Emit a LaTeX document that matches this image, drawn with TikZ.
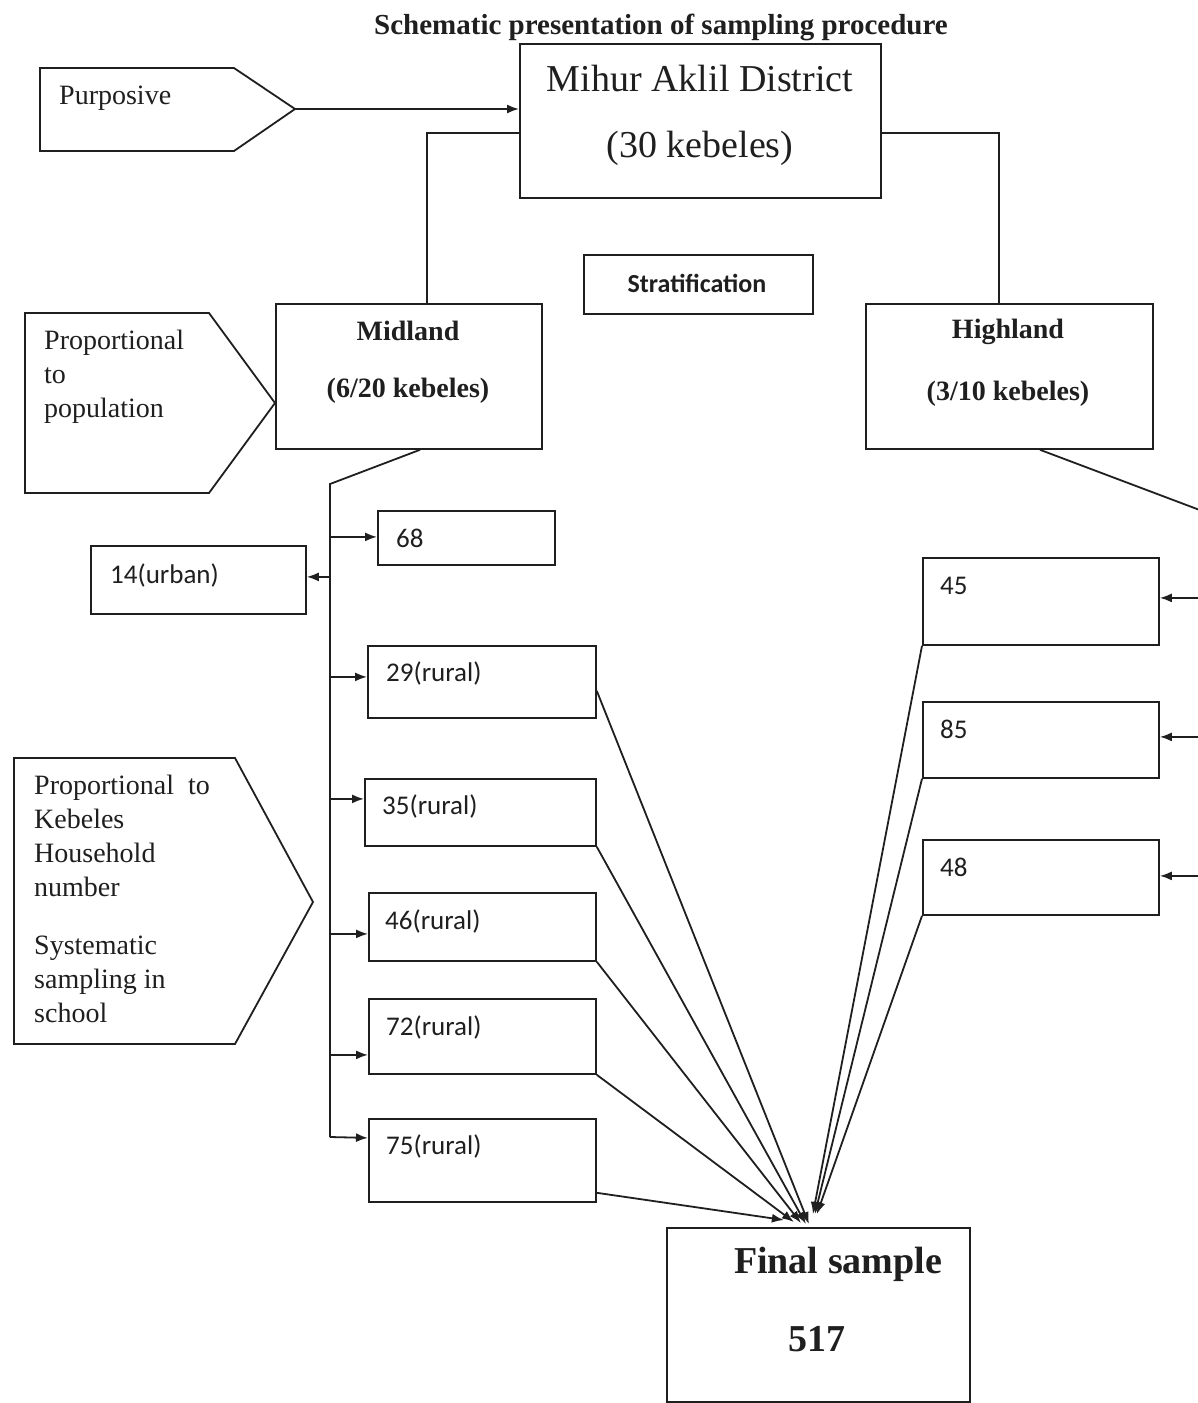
\documentclass[tikz,border=0pt]{standalone}
\usepackage{fontspec}
\setmainfont{Liberation Serif}
\newfontfamily\calfont{Carlito}
\usetikzlibrary{arrows.meta,calc}
\begin{document}
\begin{tikzpicture}[x=1pt,y=-1pt,
  ln/.style={line width=1.8pt, draw=black!88},
  arr/.style={ln, -{Latex[length=12pt,width=9pt]}},
  box/.style={draw=black!88, line width=1.8pt, inner sep=0pt, anchor=north west, fill=none},
  txt/.style={inner sep=0pt, text=black!88},
  serif/.style={txt, font=\fontsize{28}{34}\selectfont, align=left},
  num/.style={txt, font=\calfont\fontsize{27}{32}\selectfont, anchor=west},
  bold/.style={txt, font=\bfseries\fontsize{28}{34}\selectfont}
]
\useasboundingbox (0,0) rectangle (1198,1403);
\fill[white] (0,0) rectangle (1198,1403);

% title
\node[txt, font=\bfseries\fontsize{29}{34}\selectfont] (title) at (661,27) {Schematic presentation of sampling procedure};

% main boxes
\node[box, minimum width=361pt, minimum height=154pt] (mihur) at (519,43) {};
\node[txt, font=\fontsize{38}{44}\selectfont] (mihurA) at (700,78) {Mihur Aklil District};
\node[txt, font=\fontsize{38}{44}\selectfont] (mihurB) at (700,148) {(30 kebeles)};

\node[box, minimum width=229pt, minimum height=59pt] (strat) at (583,254) {};
\node[txt, font=\calfont\bfseries\fontsize{26}{30}\selectfont] (stratT) at (697,283) {Stratification};

\node[box, minimum width=266pt, minimum height=145pt] (midland) at (275,303) {};
\node[bold] (midA) at (408,331) {Midland};
\node[bold] (midB) at (408,391) {(6/20 kebeles)};

\node[box, minimum width=287pt, minimum height=145pt] (highland) at (865,303) {};
\node[bold] (hiA) at (1008,332) {Highland};
\node[bold] (hiB) at (1008,394) {(3/10 kebeles)};

% midland children
\node[box, minimum width=177pt, minimum height=54pt] (n68) at (377,510) {};
\node[num] (t68) at (396,538) {68};
\node[box, minimum width=215pt, minimum height=68pt] (n14) at (90,545) {};
\node[num] (t14) at (110,575) {14(urban)};
\node[box, minimum width=228pt, minimum height=72pt] (n29) at (367,645) {};
\node[num] (t29) at (386,673) {29(rural)};
\node[box, minimum width=231pt, minimum height=67pt] (n35) at (364,778) {};
\node[num] (t35) at (382,806) {35(rural)};
\node[box, minimum width=227pt, minimum height=68pt] (n46) at (368,892) {};
\node[num] (t46) at (385,921) {46(rural)};
\node[box, minimum width=227pt, minimum height=75pt] (n72) at (368,998) {};
\node[num] (t72) at (386,1027) {72(rural)};
\node[box, minimum width=227pt, minimum height=83pt] (n75) at (368,1118) {};
\node[num] (t75) at (386,1146) {75(rural)};

% highland children
\node[box, minimum width=236pt, minimum height=87pt] (n45) at (922,557) {};
\node[num] (t45) at (940,586) {45};
\node[box, minimum width=236pt, minimum height=76pt] (n85) at (922,701) {};
\node[num] (t85) at (940,729) {85};
\node[box, minimum width=236pt, minimum height=75pt] (n48) at (922,839) {};
\node[num] (t48) at (940,867) {48};

% final
\node[box, minimum width=303pt, minimum height=174pt] (final) at (666,1227) {};
\node[txt, font=\bfseries\fontsize{38}{44}\selectfont] (finA) at (838,1264) {Final sample};
\node[txt, font=\bfseries\fontsize{38}{44}\selectfont] (finB) at (817,1339) {517};

% pentagons
\draw[ln] (40,68) -- (234,68) -- (295,109) coordinate (ptip) -- (234,151) -- (40,151) -- cycle;
\node[serif, anchor=west] (pur) at (59,98) {Purposive};

\draw[ln] (25,313) -- (209,313) -- (275,403) coordinate (ptip2) -- (209,493) -- (25,493) -- cycle;
\node[serif, anchor=north west] (prop) at (44,330) {Proportional\\to\\population};

\draw[ln] (14,758) -- (235,758) -- (313,902) coordinate (ptip3) -- (235,1044) -- (14,1044) -- cycle;
\node[serif, anchor=north west] (keb) at (34,775) {Proportional\ \ to\\Kebeles\\Household\\number\\[24pt]Systematic\\sampling in\\school};

% connectors top
\draw[arr] (ptip) -- (mihur.west |- ptip);
\coordinate (ml) at (427,133);
\coordinate (mr) at (999,133);
\draw[ln] (mihur.west |- ml) -| (midland.north -| ml);
\draw[ln] (mihur.east |- mr) -| (highland.north -| mr);

% midland bus
\coordinate (mdx) at (420,0);
\coordinate (bustop) at (330,484);
\coordinate (busbot) at (330,1137);
\draw[ln] (midland.south -| mdx) -- (bustop) -- (busbot);
\path ([yshift=1pt]n68.west) coordinate (e68);
\path ([yshift=3pt]n14.east) coordinate (e14);
\path ([yshift=5pt]n29.west) coordinate (e29);
\path ([yshift=13.5pt]n35.west) coordinate (e35);
\path ([yshift=-7pt]n46.west) coordinate (e46);
\path ([yshift=-18.5pt]n72.west) coordinate (e72);
\path ([yshift=22.5pt]n75.west) coordinate (e75);
\draw[arr] (bustop |- e68) -- (e68);
\draw[arr] (bustop |- e14) -- (e14);
\draw[arr] (bustop |- e29) -- (e29);
\draw[arr] (bustop |- e35) -- (e35);
\draw[arr] (bustop |- e46) -- (e46);
\draw[arr] (bustop |- e72) -- (e72);
\draw[arr] (busbot) -- (e75);

% highland bus (runs off the right edge)
\coordinate (hx) at (1040,0);
\coordinate (hr) at (1205,512);
\path ([yshift=3.5pt]n45.east) coordinate (f45);
\path ([yshift=3pt]n85.east) coordinate (f85);
\path ([yshift=1.5pt]n48.east) coordinate (f48);
\draw[ln] (highland.south -| hx) -- (hr) -- (hr |- f48);
\draw[arr] (hr |- f45) -- (f45);
\draw[arr] (hr |- f85) -- (f85);
\draw[arr] (hr |- f48) -- (f48);

% to final sample
\draw[arr] ([yshift=-9pt]n29.east) -- ([xshift=-9.5pt,yshift=3pt]final.north);
\draw[arr] (n35.south east) -- ([xshift=-12.5pt,yshift=3pt]final.north);
\draw[arr] (n46.south east) -- ([xshift=-17.5pt,yshift=4pt]final.north);
\draw[arr] (n72.south east) -- ([xshift=-24.5pt,yshift=5pt]final.north);
\draw[arr] ([yshift=10pt]n75.south east) -- ([xshift=-34.5pt,yshift=7pt]final.north);
\draw[arr] (n45.south west) -- ([xshift=-5.5pt,yshift=13pt]final.north);
\draw[arr] (n85.south west) -- ([xshift=-3.5pt,yshift=13pt]final.north);
\draw[arr] (n48.south west) -- ([xshift=-1.5pt,yshift=13pt]final.north);
\end{tikzpicture}
\end{document}
